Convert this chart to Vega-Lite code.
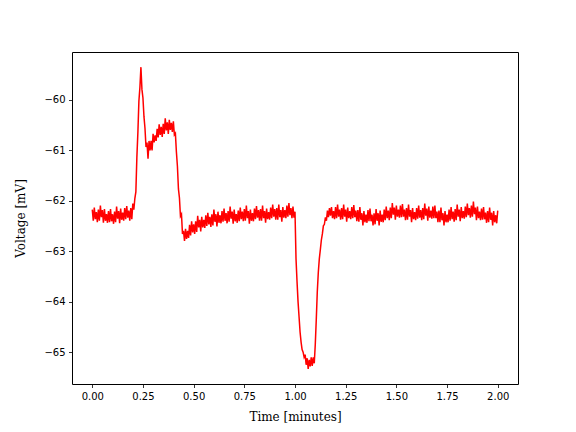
{
  "$schema": "https://vega.github.io/schema/vega-lite/v6.json",
  "autosize": {"type": "none"},
  "padding": {"left": 72, "top": 52, "right": 58, "bottom": 48},
  "width": 446,
  "height": 332,
  "background": "white",
  "config": {
    "view": {"stroke": "#000000", "strokeWidth": 1},
    "axis": {
      "grid": false,
      "domain": false,
      "tickColor": "#000000",
      "tickWidth": 0.8,
      "tickSize": 3.5,
      "labelPadding": 3.5,
      "labelFont": "DejaVu Sans",
      "labelFontSize": 10,
      "labelColor": "#000000",
      "titleFont": "DejaVu Serif",
      "titleFontSize": 12,
      "titleFontWeight": "normal",
      "titleColor": "#000000"
    }
  },
  "data": {"values": [
    {"t":0,"v":-62.18},{"t":0.005,"v":-62.40},{"t":0.01,"v":-62.14},{"t":0.015,"v":-62.37},{"t":0.02,"v":-62.23},{"t":0.025,"v":-62.43},{"t":0.03,"v":-62.18},{"t":0.035,"v":-62.40},{"t":0.04,"v":-62.10},{"t":0.045,"v":-62.33},
    {"t":0.05,"v":-62.19},{"t":0.055,"v":-62.44},{"t":0.06,"v":-62.17},{"t":0.065,"v":-62.40},{"t":0.07,"v":-62.27},{"t":0.075,"v":-62.44},{"t":0.08,"v":-62.21},{"t":0.085,"v":-62.43},{"t":0.09,"v":-62.17},{"t":0.095,"v":-62.41},
    {"t":0.1,"v":-62.27},{"t":0.105,"v":-62.46},{"t":0.11,"v":-62.22},{"t":0.115,"v":-62.43},{"t":0.12,"v":-62.12},{"t":0.125,"v":-62.36},{"t":0.13,"v":-62.21},{"t":0.135,"v":-62.45},{"t":0.14,"v":-62.16},{"t":0.145,"v":-62.38},
    {"t":0.15,"v":-62.24},{"t":0.155,"v":-62.40},{"t":0.16,"v":-62.15},{"t":0.165,"v":-62.37},{"t":0.17,"v":-62.11},{"t":0.175,"v":-62.34},{"t":0.18,"v":-62.20},{"t":0.185,"v":-62.40},{"t":0.19,"v":-62.15},{"t":0.195,"v":-62.37},
    {"t":0.2,"v":-62.06},{"t":0.205,"v":-62.18},{"t":0.21,"v":-61.96},{"t":0.215,"v":-61.83},{"t":0.22,"v":-61.14},{"t":0.225,"v":-60.65},{"t":0.23,"v":-60.03},{"t":0.235,"v":-59.76},{"t":0.24,"v":-59.36},{"t":0.245,"v":-59.80},
    {"t":0.25,"v":-59.97},{"t":0.255,"v":-60.34},{"t":0.26,"v":-60.57},{"t":0.265,"v":-60.94},{"t":0.27,"v":-60.85},{"t":0.275,"v":-61.17},{"t":0.28,"v":-60.82},{"t":0.285,"v":-61.01},{"t":0.29,"v":-60.82},{"t":0.295,"v":-61.01},
    {"t":0.3,"v":-60.68},{"t":0.305,"v":-60.85},{"t":0.31,"v":-60.71},{"t":0.315,"v":-60.82},{"t":0.32,"v":-60.58},{"t":0.325,"v":-60.75},{"t":0.33,"v":-60.49},{"t":0.335,"v":-60.70},{"t":0.34,"v":-60.54},{"t":0.345,"v":-60.74},
    {"t":0.35,"v":-60.48},{"t":0.355,"v":-60.68},{"t":0.36,"v":-60.37},{"t":0.365,"v":-60.61},{"t":0.37,"v":-60.45},{"t":0.375,"v":-60.68},{"t":0.38,"v":-60.40},{"t":0.385,"v":-60.60},{"t":0.39,"v":-60.46},{"t":0.395,"v":-60.64},
    {"t":0.4,"v":-60.43},{"t":0.405,"v":-60.70},{"t":0.41,"v":-60.67},{"t":0.415,"v":-61.04},{"t":0.42,"v":-61.32},{"t":0.425,"v":-61.77},{"t":0.43,"v":-61.95},{"t":0.435,"v":-62.31},{"t":0.44,"v":-62.27},{"t":0.445,"v":-62.66},
    {"t":0.45,"v":-62.60},{"t":0.455,"v":-62.80},{"t":0.46,"v":-62.56},{"t":0.465,"v":-62.76},{"t":0.47,"v":-62.60},{"t":0.475,"v":-62.74},{"t":0.48,"v":-62.48},{"t":0.485,"v":-62.69},{"t":0.49,"v":-62.41},{"t":0.495,"v":-62.63},
    {"t":0.5,"v":-62.47},{"t":0.505,"v":-62.66},{"t":0.51,"v":-62.41},{"t":0.515,"v":-62.62},{"t":0.52,"v":-62.30},{"t":0.525,"v":-62.53},{"t":0.53,"v":-62.38},{"t":0.535,"v":-62.61},{"t":0.54,"v":-62.32},{"t":0.545,"v":-62.53},
    {"t":0.55,"v":-62.38},{"t":0.555,"v":-62.54},{"t":0.56,"v":-62.29},{"t":0.565,"v":-62.50},{"t":0.57,"v":-62.24},{"t":0.575,"v":-62.47},{"t":0.58,"v":-62.32},{"t":0.585,"v":-62.52},{"t":0.59,"v":-62.27},{"t":0.595,"v":-62.49},
    {"t":0.6,"v":-62.18},{"t":0.605,"v":-62.42},{"t":0.61,"v":-62.27},{"t":0.615,"v":-62.51},{"t":0.62,"v":-62.22},{"t":0.625,"v":-62.44},{"t":0.63,"v":-62.29},{"t":0.635,"v":-62.45},{"t":0.64,"v":-62.21},{"t":0.645,"v":-62.42},
    {"t":0.65,"v":-62.16},{"t":0.655,"v":-62.40},{"t":0.66,"v":-62.25},{"t":0.665,"v":-62.45},{"t":0.67,"v":-62.21},{"t":0.675,"v":-62.42},{"t":0.68,"v":-62.12},{"t":0.685,"v":-62.36},{"t":0.69,"v":-62.22},{"t":0.695,"v":-62.46},
    {"t":0.7,"v":-62.18},{"t":0.705,"v":-62.41},{"t":0.71,"v":-62.27},{"t":0.715,"v":-62.44},{"t":0.72,"v":-62.20},{"t":0.725,"v":-62.41},{"t":0.73,"v":-62.14},{"t":0.735,"v":-62.37},{"t":0.74,"v":-62.22},{"t":0.745,"v":-62.41},
    {"t":0.75,"v":-62.17},{"t":0.755,"v":-62.40},{"t":0.76,"v":-62.10},{"t":0.765,"v":-62.35},{"t":0.77,"v":-62.21},{"t":0.775,"v":-62.46},{"t":0.78,"v":-62.18},{"t":0.785,"v":-62.40},{"t":0.79,"v":-62.25},{"t":0.795,"v":-62.41},
    {"t":0.8,"v":-62.16},{"t":0.805,"v":-62.37},{"t":0.81,"v":-62.11},{"t":0.815,"v":-62.34},{"t":0.82,"v":-62.19},{"t":0.825,"v":-62.40},{"t":0.83,"v":-62.17},{"t":0.835,"v":-62.40},{"t":0.84,"v":-62.10},{"t":0.845,"v":-62.35},
    {"t":0.85,"v":-62.21},{"t":0.855,"v":-62.44},{"t":0.86,"v":-62.16},{"t":0.865,"v":-62.37},{"t":0.87,"v":-62.23},{"t":0.875,"v":-62.38},{"t":0.88,"v":-62.14},{"t":0.885,"v":-62.35},{"t":0.89,"v":-62.08},{"t":0.895,"v":-62.32},
    {"t":0.9,"v":-62.17},{"t":0.905,"v":-62.38},{"t":0.91,"v":-62.15},{"t":0.915,"v":-62.38},{"t":0.92,"v":-62.08},{"t":0.925,"v":-62.33},{"t":0.93,"v":-62.19},{"t":0.935,"v":-62.42},{"t":0.94,"v":-62.13},{"t":0.945,"v":-62.34},
    {"t":0.95,"v":-62.19},{"t":0.955,"v":-62.35},{"t":0.96,"v":-62.10},{"t":0.965,"v":-62.32},{"t":0.97,"v":-62.05},{"t":0.975,"v":-62.29},{"t":0.98,"v":-62.15},{"t":0.985,"v":-62.35},{"t":0.99,"v":-62.12},{"t":0.995,"v":-62.34},
    {"t":1.0,"v":-62.22},{"t":1.005,"v":-63.15},{"t":1.01,"v":-63.6},{"t":1.015,"v":-64.0},{"t":1.02,"v":-64.3},{"t":1.025,"v":-64.6},{"t":1.03,"v":-64.8},{"t":1.035,"v":-64.95},{"t":1.04,"v":-65.0},{"t":1.045,"v":-65.1},
    {"t":1.05,"v":-65.05},{"t":1.055,"v":-65.25},{"t":1.06,"v":-65.12},{"t":1.065,"v":-65.33},{"t":1.07,"v":-65.15},{"t":1.075,"v":-65.28},{"t":1.08,"v":-65.1},{"t":1.085,"v":-65.27},{"t":1.09,"v":-65.1},{"t":1.095,"v":-65.22},
    {"t":1.1,"v":-64.85},{"t":1.105,"v":-64.35},{"t":1.11,"v":-63.8},{"t":1.115,"v":-63.42},{"t":1.12,"v":-63.15},{"t":1.125,"v":-62.97},{"t":1.13,"v":-62.78},{"t":1.135,"v":-62.66},{"t":1.14,"v":-62.50},{"t":1.145,"v":-62.47},
    {"t":1.15,"v":-62.33},{"t":1.155,"v":-62.40},{"t":1.16,"v":-62.20},{"t":1.165,"v":-62.33},{"t":1.17,"v":-62.15},{"t":1.175,"v":-62.30},{"t":1.18,"v":-62.13},{"t":1.185,"v":-62.35},{"t":1.19,"v":-62.21},{"t":1.195,"v":-62.37},
    {"t":1.2,"v":-62.13},{"t":1.205,"v":-62.35},{"t":1.21,"v":-62.08},{"t":1.215,"v":-62.32},{"t":1.22,"v":-62.18},{"t":1.225,"v":-62.38},{"t":1.23,"v":-62.15},{"t":1.235,"v":-62.37},{"t":1.24,"v":-62.08},{"t":1.245,"v":-62.32},
    {"t":1.25,"v":-62.18},{"t":1.255,"v":-62.42},{"t":1.26,"v":-62.14},{"t":1.265,"v":-62.35},{"t":1.27,"v":-62.21},{"t":1.275,"v":-62.37},{"t":1.28,"v":-62.13},{"t":1.285,"v":-62.35},{"t":1.29,"v":-62.09},{"t":1.295,"v":-62.33},
    {"t":1.3,"v":-62.20},{"t":1.305,"v":-62.41},{"t":1.31,"v":-62.19},{"t":1.315,"v":-62.42},{"t":1.32,"v":-62.13},{"t":1.325,"v":-62.38},{"t":1.33,"v":-62.25},{"t":1.335,"v":-62.49},{"t":1.34,"v":-62.21},{"t":1.345,"v":-62.43},
    {"t":1.35,"v":-62.28},{"t":1.355,"v":-62.44},{"t":1.36,"v":-62.19},{"t":1.365,"v":-62.41},{"t":1.37,"v":-62.16},{"t":1.375,"v":-62.41},{"t":1.38,"v":-62.28},{"t":1.385,"v":-62.49},{"t":1.39,"v":-62.25},{"t":1.395,"v":-62.47},
    {"t":1.4,"v":-62.17},{"t":1.405,"v":-62.40},{"t":1.41,"v":-62.25},{"t":1.415,"v":-62.49},{"t":1.42,"v":-62.20},{"t":1.425,"v":-62.42},{"t":1.43,"v":-62.28},{"t":1.435,"v":-62.43},{"t":1.44,"v":-62.18},{"t":1.445,"v":-62.39},
    {"t":1.45,"v":-62.12},{"t":1.455,"v":-62.35},{"t":1.46,"v":-62.20},{"t":1.465,"v":-62.39},{"t":1.47,"v":-62.14},{"t":1.475,"v":-62.35},{"t":1.48,"v":-62.05},{"t":1.485,"v":-62.28},{"t":1.49,"v":-62.14},{"t":1.495,"v":-62.38},
    {"t":1.5,"v":-62.10},{"t":1.505,"v":-62.32},{"t":1.51,"v":-62.18},{"t":1.515,"v":-62.34},{"t":1.52,"v":-62.10},{"t":1.525,"v":-62.33},{"t":1.53,"v":-62.07},{"t":1.535,"v":-62.32},{"t":1.54,"v":-62.18},{"t":1.545,"v":-62.39},
    {"t":1.55,"v":-62.15},{"t":1.555,"v":-62.38},{"t":1.56,"v":-62.08},{"t":1.565,"v":-62.32},{"t":1.57,"v":-62.19},{"t":1.575,"v":-62.43},{"t":1.58,"v":-62.15},{"t":1.585,"v":-62.37},{"t":1.59,"v":-62.23},{"t":1.595,"v":-62.39},
    {"t":1.6,"v":-62.15},{"t":1.605,"v":-62.36},{"t":1.61,"v":-62.10},{"t":1.615,"v":-62.34},{"t":1.62,"v":-62.19},{"t":1.625,"v":-62.39},{"t":1.63,"v":-62.15},{"t":1.635,"v":-62.37},{"t":1.64,"v":-62.06},{"t":1.645,"v":-62.30},
    {"t":1.65,"v":-62.16},{"t":1.655,"v":-62.40},{"t":1.66,"v":-62.12},{"t":1.665,"v":-62.34},{"t":1.67,"v":-62.20},{"t":1.675,"v":-62.36},{"t":1.68,"v":-62.12},{"t":1.685,"v":-62.35},{"t":1.69,"v":-62.10},{"t":1.695,"v":-62.35},
    {"t":1.7,"v":-62.22},{"t":1.705,"v":-62.43},{"t":1.71,"v":-62.20},{"t":1.715,"v":-62.43},{"t":1.72,"v":-62.14},{"t":1.725,"v":-62.39},{"t":1.73,"v":-62.25},{"t":1.735,"v":-62.49},{"t":1.74,"v":-62.21},{"t":1.745,"v":-62.43},
    {"t":1.75,"v":-62.28},{"t":1.755,"v":-62.43},{"t":1.76,"v":-62.18},{"t":1.765,"v":-62.40},{"t":1.77,"v":-62.13},{"t":1.775,"v":-62.37},{"t":1.78,"v":-62.22},{"t":1.785,"v":-62.42},{"t":1.79,"v":-62.17},{"t":1.795,"v":-62.39},
    {"t":1.8,"v":-62.08},{"t":1.805,"v":-62.32},{"t":1.81,"v":-62.18},{"t":1.815,"v":-62.41},{"t":1.82,"v":-62.13},{"t":1.825,"v":-62.35},{"t":1.83,"v":-62.21},{"t":1.835,"v":-62.36},{"t":1.84,"v":-62.12},{"t":1.845,"v":-62.33},
    {"t":1.85,"v":-62.06},{"t":1.855,"v":-62.29},{"t":1.86,"v":-62.15},{"t":1.865,"v":-62.34},{"t":1.87,"v":-62.10},{"t":1.875,"v":-62.32},{"t":1.88,"v":-62.02},{"t":1.885,"v":-62.27},{"t":1.89,"v":-62.14},{"t":1.895,"v":-62.39},
    {"t":1.9,"v":-62.12},{"t":1.905,"v":-62.35},{"t":1.91,"v":-62.22},{"t":1.915,"v":-62.39},{"t":1.92,"v":-62.16},{"t":1.925,"v":-62.38},{"t":1.93,"v":-62.13},{"t":1.935,"v":-62.37},{"t":1.94,"v":-62.24},{"t":1.945,"v":-62.44},
    {"t":1.95,"v":-62.21},{"t":1.955,"v":-62.43},{"t":1.96,"v":-62.14},{"t":1.965,"v":-62.38},{"t":1.97,"v":-62.24},{"t":1.975,"v":-62.49},{"t":1.98,"v":-62.21},{"t":1.985,"v":-62.43},{"t":1.99,"v":-62.29},{"t":1.995,"v":-62.45},
    {"t":2.0,"v":-62.20}
  ]},
  "mark": {"type": "line", "color": "#ff0000", "strokeWidth": 1.5, "clip": true},
  "encoding": {
    "x": {
      "field": "t", "type": "quantitative",
      "scale": {"domain": [-0.1, 2.1], "nice": false, "zero": false},
      "axis": {"title": "Time [minutes]", "values": [0, 0.25, 0.5, 0.75, 1.0, 1.25, 1.5, 1.75, 2.0], "format": ".2f", "titlePadding": 10}
    },
    "y": {
      "field": "v", "type": "quantitative",
      "scale": {"domain": [-65.63, -59.06], "nice": false, "zero": false},
      "axis": {"title": "Voltage [mV]", "values": [-65, -64, -63, -62, -61, -60], "format": "d", "titlePadding": 16}
    }
  }
}
